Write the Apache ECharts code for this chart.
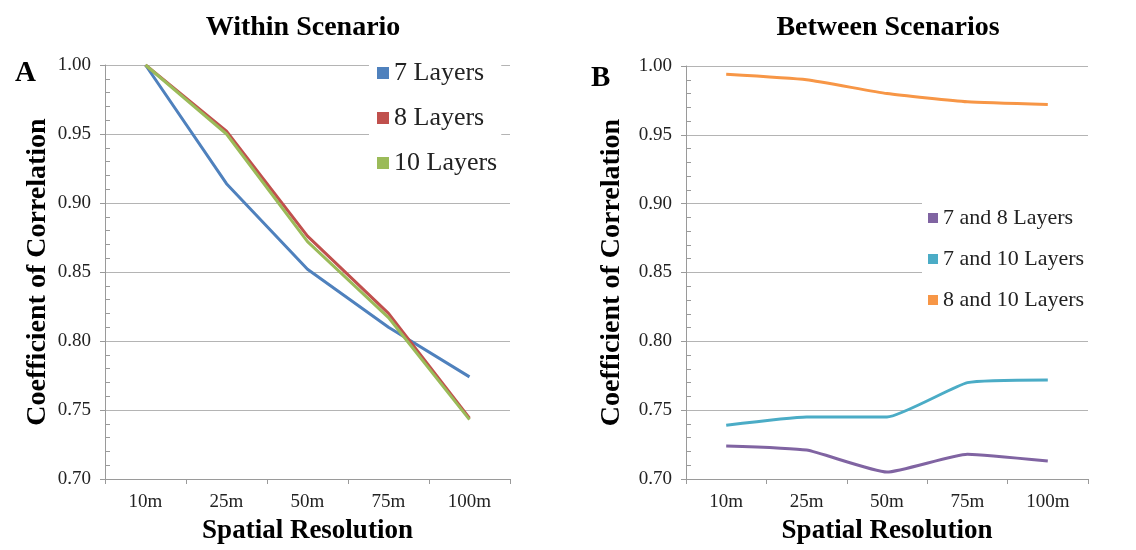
<!DOCTYPE html>
<html>
<head>
<meta charset="utf-8">
<script src="https://cdn.jsdelivr.net/npm/echarts@6/dist/echarts.min.js"></script>
<style>html,body{margin:0;padding:0;background:#fff}#c{width:1136px;height:550px}</style>
</head>
<body>
<div id="c"></div>
<script>
const categories = ['10m', '25m', '50m', '75m', '100m'];
const within7 = [1.000, 0.914, 0.852, 0.810, 0.774];
const within8 = [1.000, 0.952, 0.876, 0.820, 0.744];
const within10 = [1.000, 0.950, 0.872, 0.817, 0.743];
const between7and8 = [0.724, 0.721, 0.705, 0.718, 0.713];
const between7and10 = [0.739, 0.745, 0.745, 0.770, 0.772];
const between8and10 = [0.994, 0.990, 0.980, 0.974, 0.972];

const FONT = 'Liberation Serif';
const chart = echarts.init(document.getElementById('c'));

function catAxis(gi) {
  return {
    type: 'category', gridIndex: gi, data: categories, boundaryGap: true,
    name: 'Spatial Resolution', nameLocation: 'middle', nameGap: 39,
    nameTextStyle: {fontFamily: FONT, fontSize: 27, fontWeight: 'bold', color: '#000'},
    axisLine: {lineStyle: {color: '#9a9a9a', width: 1}},
    axisTick: {show: true, length: 5, lineStyle: {color: '#9a9a9a'}},
    axisLabel: {fontFamily: FONT, fontSize: 19, color: '#222', margin: 14}
  };
}
function valAxis(gi, gap) {
  return {
    type: 'value', gridIndex: gi, position: 'left', min: 0.7, max: 1.0, interval: 0.05,
    name: 'Coefficient of Correlation', nameLocation: 'middle', nameGap: gap, nameRotate: 90,
    nameTextStyle: {fontFamily: FONT, fontSize: 28, fontWeight: 'bold', color: '#000'},
    axisLine: {show: true, lineStyle: {color: '#9a9a9a', width: 1}},
    axisTick: {show: true, length: 5, lineStyle: {color: '#9a9a9a'}},
    axisLabel: {fontFamily: FONT, fontSize: 19, color: '#222', margin: 14,
      formatter: v => v.toFixed(2)},
    splitLine: {show: true, lineStyle: {color: '#b4b4b4', width: 1}}
  };
}
function minorAxis(gi) {
  return {
    type: 'value', gridIndex: gi, position: 'left', min: 0.7, max: 1.0, interval: 0.05,
    axisLine: {show: false}, axisLabel: {show: false}, splitLine: {show: false},
    axisTick: {show: false, inside: true},
    minorTick: {show: true, splitNumber: 5, length: 5, lineStyle: {color: '#9a9a9a'}}
  };
}
function line(name, data, color, xi, yi, smooth) {
  return {
    name, type: 'line', data, xAxisIndex: xi, yAxisIndex: yi, showSymbol: false,
    symbol: 'rect', smooth: smooth || false,
    lineStyle: {color, width: 3}, itemStyle: {color}, z: 3
  };
}

chart.setOption({
  animation: false,
  backgroundColor: '#fff',
  title: [
    {text: 'Within Scenario', left: 298, top: 9, textAlign: 'center',
      textStyle: {fontFamily: FONT, fontSize: 28, fontWeight: 'bold', color: '#000'}},
    {text: 'Between Scenarios', left: 883, top: 9, textAlign: 'center',
      textStyle: {fontFamily: FONT, fontSize: 28, fontWeight: 'bold', color: '#000'}},
    {text: 'A', left: 10, top: 54, textStyle: {fontFamily: FONT, fontSize: 29, fontWeight: 'bold', color: '#000'}},
    {text: 'B', left: 586, top: 59, textStyle: {fontFamily: FONT, fontSize: 29, fontWeight: 'bold', color: '#000'}}
  ],
  legend: [
    {data: ['7 Layers', '8 Layers', '10 Layers'], orient: 'vertical', left: 369, top: 58,
      icon: 'rect', itemWidth: 12, itemHeight: 12, itemGap: 19, padding: [2, 4, 2, 8],
      backgroundColor: '#fff', z: 5,
      textStyle: {fontFamily: FONT, fontSize: 26, color: '#222'}},
    {data: ['7 and 8 Layers', '7 and 10 Layers', '8 and 10 Layers'], orient: 'vertical', left: 922, top: 203,
      icon: 'rect', itemWidth: 10, itemHeight: 10, itemGap: 19, padding: [4, 4, 4, 6],
      backgroundColor: '#fff', z: 5,
      textStyle: {fontFamily: FONT, fontSize: 22, color: '#222'}}
  ],
  grid: [
    {left: 105, right: 626, top: 65, bottom: 68},
    {left: 686, right: 48, top: 66, bottom: 68}
  ],
  xAxis: [catAxis(0), catAxis(1)],
  yAxis: [valAxis(0, 53), valAxis(1, 60), minorAxis(0), minorAxis(1)],
  series: [
    line('7 Layers', within7, '#4F81BD', 0, 0),
    line('8 Layers', within8, '#C0504D', 0, 0),
    line('10 Layers', within10, '#9BBB59', 0, 0),
    line('7 and 8 Layers', between7and8, '#8064A2', 1, 1, 0.15),
    line('7 and 10 Layers', between7and10, '#4BACC6', 1, 1, 0.15),
    line('8 and 10 Layers', between8and10, '#F79646', 1, 1, 0.15)
  ]
});
</script>
</body>
</html>
